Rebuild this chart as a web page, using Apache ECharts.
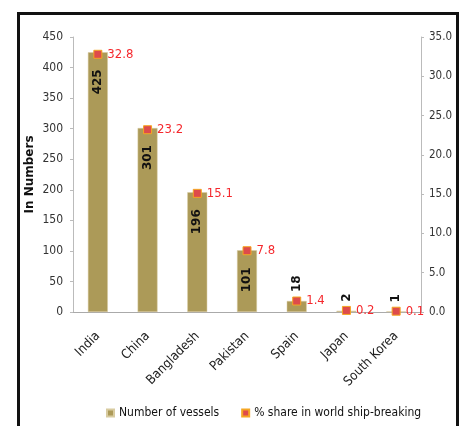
<!DOCTYPE html>
<html>
<head>
<meta charset="utf-8">
<script src="https://cdn.jsdelivr.net/npm/echarts@6/dist/echarts.min.js"></script>
<style>
    html, body { margin: 0; padding: 0; background: #fff; }
    #chart { width: 466px; height: 426px; }
</style>
</head>
<body>
<div id="chart"></div>
<script>
var countries = ['India', 'China', 'Bangladesh', 'Pakistan', 'Spain', 'Japan', 'South Korea'];
var vessels = [425, 301, 196, 101, 18, 2, 1];
var share = [32.8, 23.2, 15.1, 7.8, 1.4, 0.2, 0.1];
var leftTicks = { min: 0, max: 450, interval: 50 };
var rightTicks = { min: 0, max: 35, interval: 5 };

var narrow = '"DejaVu Sans Condensed", "Liberation Sans Narrow", sans-serif';
var myChart = echarts.init(document.getElementById('chart'));

// small bars get their label above the bar
var barData = vessels.map(function (v) {
    if (v < 50) {
        return {
            value: v,
            label: { position: 'top', align: 'left', distance: 9 }
        };
    }
    return v;
});

var option = {
    animation: false,
    graphic: [{
        type: 'rect',
        shape: { x: 18.5, y: 13.5, width: 439, height: 430 },
        style: { fill: 'none', stroke: '#111', lineWidth: 3 },
        silent: true
    }],
    grid: { left: 73, right: 45, top: 37, bottom: 114 },
    legend: {
        left: 101,
        top: 402,
        itemWidth: 7,
        itemHeight: 7,
        itemGap: 22,
        textStyle: { fontFamily: narrow, fontSize: 12, color: '#111' },
        data: [
            { name: 'Number of vessels', icon: 'rect' },
            { name: '% share in world ship-breaking', icon: 'rect' }
        ]
    },
    xAxis: {
        type: 'category',
        data: countries,
        axisLine: { lineStyle: { color: '#aaa' } },
        axisTick: { show: false },
        axisLabel: {
            rotate: 45,
            interval: 0,
            margin: 22,
            fontFamily: narrow,
            fontSize: 13,
            color: '#222'
        }
    },
    yAxis: [{
        type: 'value',
        name: 'In Numbers',
        nameLocation: 'middle',
        nameGap: 37,
        nameMoveOverlap: false,
        nameTextStyle: { fontFamily: 'DejaVu Sans', fontWeight: 'bold', fontSize: 12, color: '#111' },
        min: leftTicks.min,
        max: leftTicks.max,
        interval: leftTicks.interval,
        axisLine: { show: true, lineStyle: { color: '#bbb' } },
        axisTick: { show: true, length: 3, lineStyle: { color: '#bbb' } },
        splitLine: { show: false },
        axisLabel: { fontFamily: narrow, fontSize: 12, color: '#333', margin: 10 }
    }, {
        type: 'value',
        min: rightTicks.min,
        max: rightTicks.max,
        interval: rightTicks.interval,
        position: 'right',
        axisLine: { show: true, lineStyle: { color: '#bbb' } },
        axisTick: { show: true, length: 3, lineStyle: { color: '#bbb' } },
        splitLine: { show: false },
        axisLabel: {
            fontFamily: narrow, fontSize: 11.5, color: '#333', margin: 8,
            formatter: function (v) { return v.toFixed(1); }
        }
    }],
    series: [{
        name: 'Number of vessels',
        type: 'bar',
        yAxisIndex: 0,
        data: barData,
        barWidth: '40%',
        itemStyle: { color: '#AC9A58', borderColor: '#D8CBA0', borderWidth: 0.5 },
        label: {
            show: true,
            position: 'insideTop',
            rotate: 90,
            align: 'right',
            verticalAlign: 'middle',
            distance: 17,
            fontFamily: 'DejaVu Sans',
            fontWeight: 'bold',
            fontSize: 12,
            color: '#111'
        }
    }, {
        name: '% share in world ship-breaking',
        type: 'line',
        yAxisIndex: 1,
        data: share,
        symbol: 'rect',
        symbolSize: 8,
        lineStyle: { width: 0, opacity: 0 },
        itemStyle: { color: '#DE4B4B', borderColor: '#F5A623', borderWidth: 1 },
        label: {
            show: true,
            position: 'right',
            distance: 5,
            fontFamily: narrow,
            fontSize: 13,
            color: '#F5282D'
        },
        z: 5
    }]
};
myChart.setOption(option);
</script>
</body>
</html>
